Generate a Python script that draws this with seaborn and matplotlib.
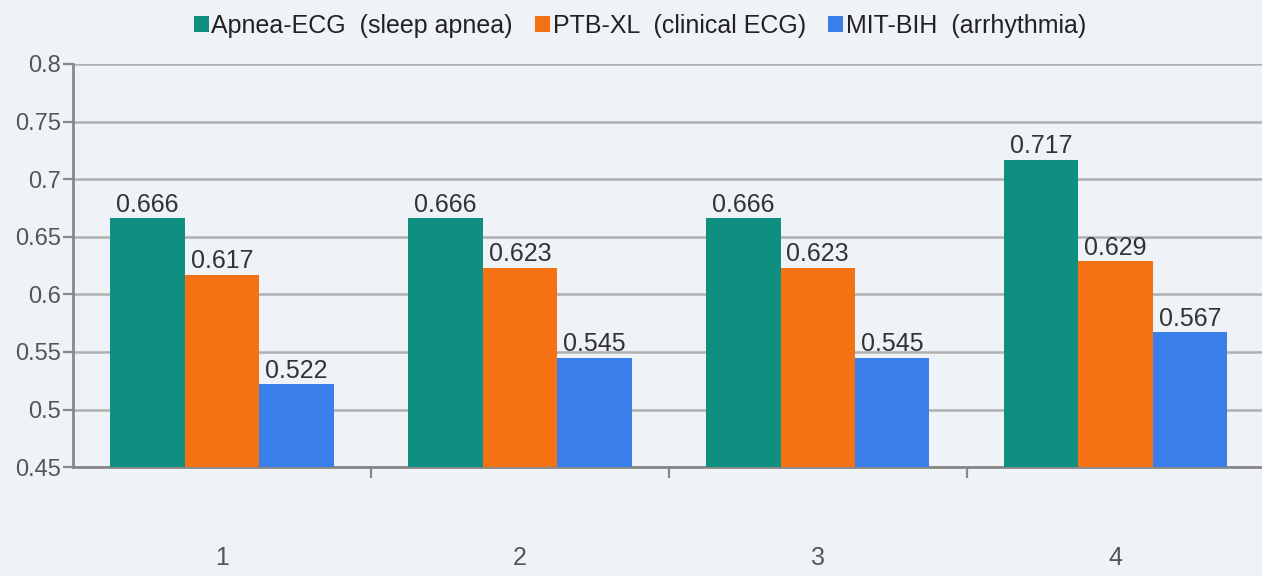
import pandas as pd
import matplotlib
matplotlib.use("Agg")
import matplotlib.pyplot as plt
import seaborn as sns
from matplotlib.ticker import FixedLocator, FormatStrFormatter

# data
groups = ["1", "2", "3", "4"]
series = ["Apnea-ECG  (sleep apnea)", "PTB-XL  (clinical ECG)", "MIT-BIH  (arrhythmia)"]
apnea = [0.666, 0.666, 0.666, 0.717]
ptbxl = [0.617, 0.623, 0.623, 0.629]
mitbih = [0.522, 0.545, 0.545, 0.567]
colors = ["#0e8f80", "#f57214", "#3a7eea"]

df = pd.DataFrame({
    "group": groups * 3,
    "dataset": [series[0]] * 4 + [series[1]] * 4 + [series[2]] * 4,
    "value": apnea + ptbxl + mitbih,
})

bg = "#eff3f8"
sns.set_style("white")
plt.rcParams["font.family"] = ["Liberation Sans", "DejaVu Sans"]

fig = plt.figure(figsize=(12.62, 5.76), dpi=100, facecolor=bg)
ax = fig.add_axes([0.058, 0.189, 0.944, 0.700])
ax.set_facecolor(bg)

sns.barplot(data=df, x="group", y="value", hue="dataset", hue_order=series,
            palette=colors, width=0.75, saturation=1, ax=ax, zorder=3,
            edgecolor="none", linewidth=0)

for c in ax.containers:
    ax.bar_label(c, fmt="%.3f", padding=1, fontsize=18, color="#333333")

ax.set_ylim(0.45, 0.8)
ax.set_xlim(-0.5, 3.5)
ax.set_yticks([0.45, 0.5, 0.55, 0.6, 0.65, 0.7, 0.75, 0.8])
ax.yaxis.set_major_formatter(FormatStrFormatter("%g"))
ax.grid(axis="y", color="#b0b0b0", linewidth=1.8, zorder=0)
ax.set_axisbelow(True)
ax.xaxis.set_minor_locator(FixedLocator([0.5, 1.5, 2.5]))
ax.tick_params(axis="x", which="major", bottom=True, length=0, labelsize=18, pad=57,
               colors="#555555")
ax.tick_params(axis="x", which="minor", bottom=True, length=8, width=1.6,
               color="#888888", direction="out")
ax.tick_params(axis="y", left=True, length=7, width=1.6, color="#888888", labelsize=17,
               labelcolor="#555555", direction="out", pad=2)
ax.set_xlabel("")
ax.set_ylabel("")

sns.despine(ax=ax, top=True, right=True)
for s in ["left", "bottom"]:
    ax.spines[s].set_color("#888888")
    ax.spines[s].set_linewidth(2)

handles, labels = ax.get_legend_handles_labels()
ax.legend_.remove()
fig.legend(handles, labels, loc="upper center", bbox_to_anchor=(0.507, 1.015), ncol=3,
           frameon=False, fontsize=18, handlelength=0.6, handleheight=0.6,
           handletextpad=0.1, columnspacing=0.9, labelcolor="#222222")

fig.savefig("out.png", dpi=100, facecolor=bg)
